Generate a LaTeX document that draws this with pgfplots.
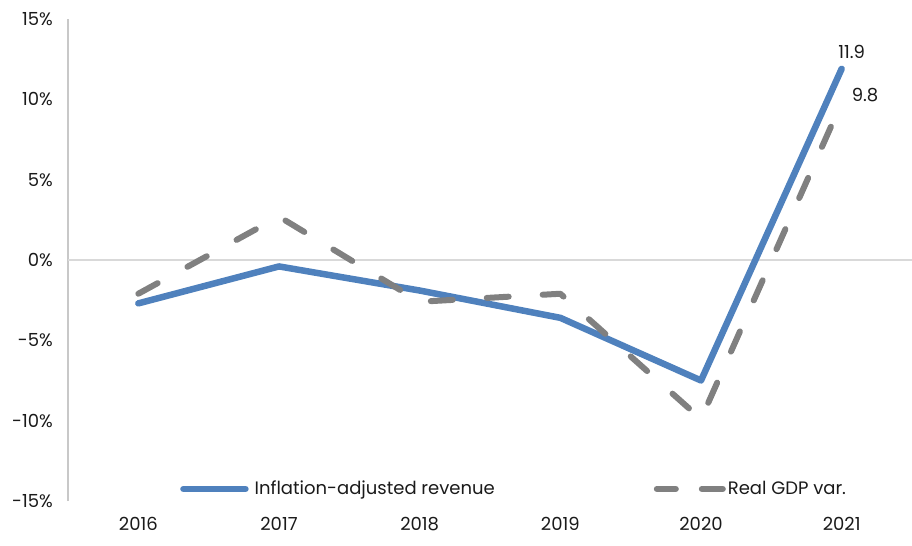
\documentclass[border=0pt]{standalone}
\usepackage{fontspec}
\setmainfont{Poppins}
\usepackage{pgfplots}
\pgfplotsset{compat=1.18}
\definecolor{rblue}{RGB}{79,129,189}
\definecolor{rgray}{RGB}{128,128,128}
\definecolor{axgray}{RGB}{200,200,200}
\definecolor{zgray}{RGB}{217,217,217}
\definecolor{txt}{RGB}{26,26,26}
\begin{document}
\begin{tikzpicture}
\fontsize{18bp}{21bp}\selectfont
\useasboundingbox (0,0) rectangle (912bp,546bp);
\begin{axis}[
  at={(68bp,45bp)}, anchor=south west,
  scale only axis, width=844bp, height=482bp,
  xmin=-0.5, xmax=5.5, ymin=-15, ymax=15,
  axis lines*=left,
  x axis line style={draw=none},
  y axis line style={draw=axgray, line width=1.5bp},
  xtick={0,1,2,3,4,5},
  xticklabels={2016,2017,2018,2019,2020,2021},
  ytick={-15,-10,-5,0,5,10,15},
  yticklabel={\pgfmathprintnumber{\tick}\%},
  /pgf/number format/assume math mode=true,
  major tick length=0,
  tick label style={font=\fontsize{18bp}{21bp}\selectfont, text=txt},
  yticklabel style={xshift=-9bp},
  xticklabel style={yshift=-10bp},
  clip=false,
  legend style={draw=none, fill=none, at={(rel axis cs:0.1327,0.025)}, anchor=west,
    font=\fontsize{18bp}{21bp}\selectfont, text=txt, inner sep=0pt},
  legend columns=2,
  /tikz/every even column/.append style={column sep=157bp},
  legend cell align=left,
]
\draw[zgray, line width=1.5bp] (axis cs:-0.5,0) -- (axis cs:5.5,0);
\addplot[rblue, line width=6.5bp, line cap=round, line join=round,
  legend image code/.code={\draw[rblue, line width=6.5bp, line cap=round] (3bp,0) -- (65bp,0);}]
  coordinates {(0,-2.7) (1,-0.4) (2,-1.9) (3,-3.6) (4,-7.5) (5,11.9)};
\addlegendentry{\hspace{4bp}Inflation-adjusted revenue}
\addplot[rgray, line width=6bp, line cap=round, line join=round, dash pattern=on 22bp off 34bp,
  legend image code/.code={\draw[rgray, line width=6bp, line cap=round] (3bp,0) -- (22bp,0) (48bp,0) -- (69bp,0);}]
  coordinates {(0,-2.1) (1,2.7) (2,-2.6) (3,-2.1) (4,-9.9) (5,9.8)};
\addlegendentry{Real GDP var.}
\node[anchor=south, text=txt, xshift=10bp, yshift=4bp] at (axis cs:5,11.9) {11.9};
\node[anchor=west, text=txt, xshift=4bp, yshift=7bp] at (axis cs:5,9.8) {9.8};
\end{axis}
\end{tikzpicture}
\end{document}
